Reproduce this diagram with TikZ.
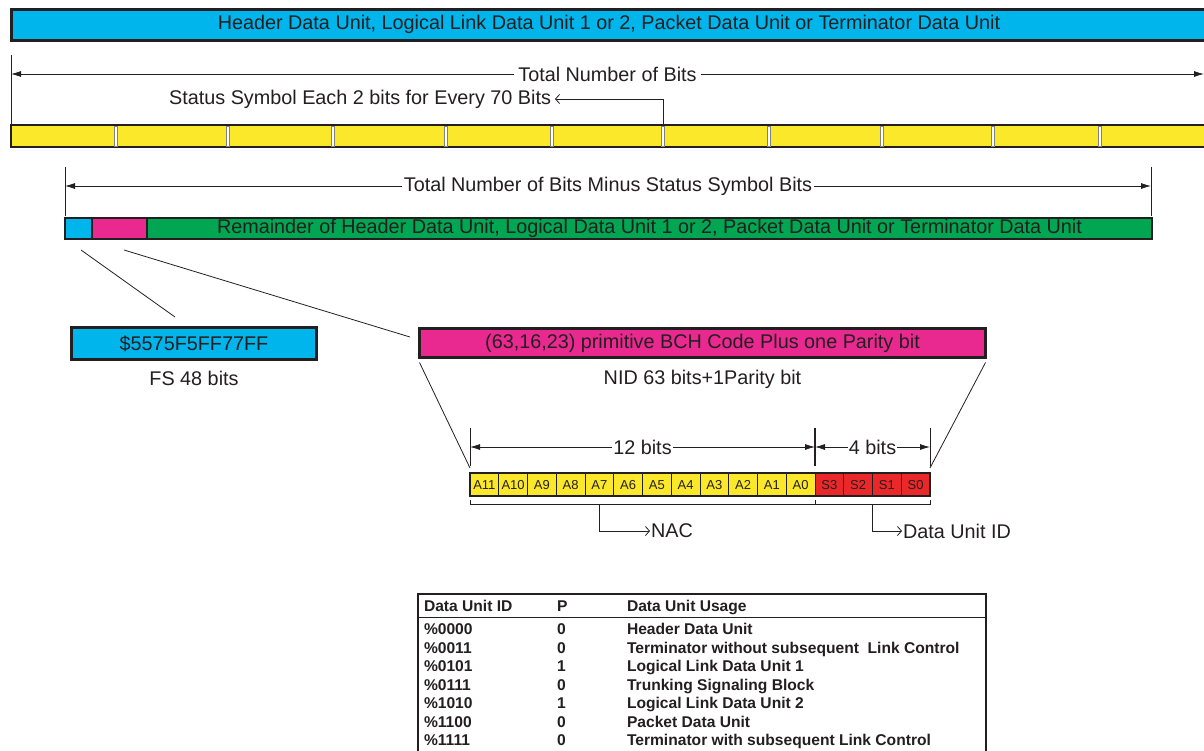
\documentclass[tikz,border=0pt]{standalone}
\usepackage{fontspec}
\setmainfont{Liberation Sans}
\usetikzlibrary{arrows.meta,positioning}
\definecolor{hdrblue}{RGB}{0,180,236}
\definecolor{bityellow}{RGB}{252,232,42}
\definecolor{nidpink}{RGB}{233,41,143}
\definecolor{remgreen}{RGB}{0,166,81}
\definecolor{sidred}{RGB}{234,40,42}
\definecolor{ink}{RGB}{35,31,32}
\begin{document}
\begin{tikzpicture}[x=1pt,y=-1pt,
  every node/.style={text=ink,inner sep=0pt,outer sep=0pt},
  lbl/.style={font=\fontsize{19.8}{22}\selectfont},
  tab/.style={font=\fontsize{15.6}{17}\selectfont\bfseries,anchor=base west},
  barbox/.style={draw=ink,line width=1.4pt,anchor=north west},
  cell/.style={draw=ink,line width=0.7pt,anchor=north west,minimum width=\cellw pt,minimum height=23pt,text height=9.4pt,text depth=0pt,font=\fontsize{13}{15}\selectfont},
  dim/.style={draw=ink,line width=0.8pt,{Latex[length=10pt,width=6pt]}-{Latex[length=10pt,width=6pt]}},
  ptr/.style={draw=ink,line width=0.8pt,-{Straight Barb[length=4pt,width=9pt]}}]
\useasboundingbox (0,0) rectangle (1204,750);
\pgfmathsetmacro{\cellw}{28.75}
\node[barbox,line width=3pt,fill=hdrblue,minimum width=1200pt,minimum height=31pt] (hdr) at (11.5,9.5) {};
\node[lbl] (hdrtxt) at (609,24.5) {Header Data Unit, Logical Link Data Unit 1 or 2, Packet Data Unit or Terminator Data Unit};
\node[barbox,fill=bityellow,minimum width=1200pt,minimum height=22pt] (bits) at (11,125) {};
\foreach \x [count=\i] in {116,228,333,446,552,663,769,882,993,1100}
  \node[draw=gray,fill=white,line width=0.6pt,minimum width=3pt,minimum height=20pt] (d\i) at (\x,136) {};
\coordinate (tbl) at (11,74);
\coordinate (tbr) at (1204,74);
\draw[ink,line width=1pt] (11,55) -- (bits.north west);
\draw[dim] (tbl) -- (tbr) node[midway,fill=white,inner xsep=4pt,lbl] (tb) {Total Number of Bits};
\node[lbl,anchor=east] (ss) at (551,99) {Status Symbol Each 2 bits for Every 70 Bits};
\draw[ptr,shorten >=4pt] (d6.north) |- (ss.east);
\node[barbox,line width=1.2pt,fill=hdrblue,minimum width=27pt,minimum height=21pt] (fsseg) at (65,218) {};
\node[barbox,line width=1.2pt,fill=nidpink,minimum width=55pt,minimum height=21pt] (nidseg) at (fsseg.north east) {};
\node[barbox,line width=1.2pt,fill=remgreen,minimum width=1005pt,minimum height=21pt,lbl] (rem) at (nidseg.north east) {Remainder of Header Data Unit, Logical Data Unit 1 or 2, Packet Data Unit or Terminator Data Unit};
\coordinate (ml) at (65,186);
\coordinate (mr) at (1151,186);
\draw[ink,line width=1pt] (65,167) -- (65,216);
\draw[ink,line width=1pt] (1151,167) -- (1151,216);
\draw[dim] (ml) -- (mr) node[midway,fill=white,inner xsep=2pt,lbl] (mb) {Total Number of Bits Minus Status Symbol Bits};
\node[barbox,line width=3pt,fill=hdrblue,minimum width=245pt,minimum height=32pt,lbl] (fs) at (71.5,327.5) {\$5575F5FF77FF};
\node[lbl,below=12pt of fs] (fslbl) {FS 48 bits};
\node[barbox,line width=3pt,fill=nidpink,minimum width=566pt,minimum height=29pt,lbl] (nid) at (419.5,328.5) {(63,16,23) primitive BCH Code Plus one Parity bit};
\node[lbl,below=13pt of nid] (nidlbl) {NID 63 bits+1Parity bit};
\coordinate (fsa) at (81,250);
\coordinate (fsb) at (175,317);
\coordinate (nida) at (124,250);
\coordinate (nidb) at (410,337);
\draw[ink,line width=0.8pt] (fsa) -- (fsb);
\draw[ink,line width=0.8pt] (nida) -- (nidb);
\coordinate (c0) at (470,473);
\foreach \t [count=\i,remember=\i as \j (initially 0)] in {A11,A10,A9,A8,A7,A6,A5,A4,A3,A2,A1,A0}
  \node[cell,fill=bityellow] (c\i) at (c\j.north east) {\t};
\foreach \t [count=\i from 13,remember=\i as \j (initially 12)] in {S3,S2,S1,S0}
  \node[cell,fill=sidred] (c\i) at (c\j.north east) {\t};
\draw[ink,line width=2pt] (c1.north west) rectangle (c16.south east);
\draw[ink,line width=0.8pt] ([yshift=-5pt]nid.south west) -- ([yshift=5pt]c1.north west);
\draw[ink,line width=0.8pt] ([yshift=-5pt]nid.south east) -- ([yshift=5pt]c16.north east);
\draw[ink,line width=1pt] ([yshift=7pt]c1.north west) -- ([yshift=45pt]c1.north west);
\draw[ink,line width=2.5pt] ([yshift=7pt]c12.north east) -- ([yshift=45pt]c12.north east);
\draw[ink,line width=1pt] ([yshift=7pt]c16.north east) -- ([yshift=45pt]c16.north east);
\draw[dim] ([yshift=26pt]c1.north west) -- ([yshift=26pt]c12.north east) node[midway,fill=white,inner xsep=1pt,lbl] (twelve) {12 bits};
\draw[dim] ([yshift=26pt]c12.north east) -- ([yshift=26pt]c16.north east) node[midway,fill=white,inner xsep=1pt,lbl] (four) {4 bits};
\draw[ink,line width=0.8pt] ([yshift=-4pt]c1.south west) -- ([yshift=-8pt]c1.south west) -- ([yshift=-8pt]c16.south east) -- ([yshift=-4pt]c16.south east);
\draw[ink,line width=0.8pt] ([yshift=-4pt]c12.south east) -- ([yshift=-8pt]c12.south east);
\node[lbl,anchor=west] (nac) at (651,531) {NAC};
\node[lbl,anchor=west] (duid) at (903,531) {Data Unit ID};
\draw[ptr,shorten >=1pt] ([yshift=-8pt]c5.south) |- (nac.west);
\draw[ptr,shorten >=1pt] ([yshift=-8pt]c14.south east) |- (duid.west);
\draw[ink,line width=2pt] (418,594) rectangle (986,760);
\draw[ink,line width=1pt] (418,617) -- (986,617);
\node[tab] (hid) at (424,611.5) {Data Unit ID};
\node[tab] (hp) at (557,611.5) {P};
\node[tab] (huse) at (627,611.5) {Data Unit Usage};
\foreach \id/\p/\use [count=\r] in {
  \%0000/0/Header Data Unit,
  \%0011/0/Terminator without subsequent\ \ Link Control,
  \%0101/1/Logical Link Data Unit 1,
  \%0111/0/Trunking Signaling Block,
  \%1010/1/Logical Link Data Unit 2,
  \%1100/0/Packet Data Unit,
  \%1111/0/Terminator with subsequent Link Control}{
  \node[tab] (id\r) at (424,634.5+18.5*\r-18.5) {\id};
  \node[tab] (p\r) at (557,634.5+18.5*\r-18.5) {\p};
  \node[tab] (use\r) at (627,634.5+18.5*\r-18.5) {\use};
}
\end{tikzpicture}
\end{document}
